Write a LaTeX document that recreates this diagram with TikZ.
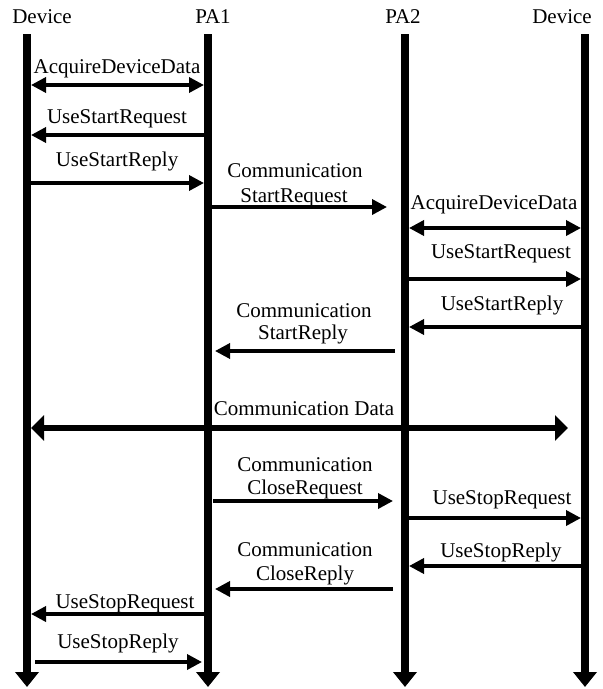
\documentclass[tikz,border=0pt]{standalone}
\usepackage{fontspec}
\setmainfont{Liberation Serif}
\usetikzlibrary{arrows.meta}
\begin{document}
\begin{tikzpicture}[x=1pt,y=-1pt,
  lbl/.style={font=\fontsize{21}{25}\selectfont, anchor=base, inner sep=0pt},
  life/.style={line width=8pt, -{Triangle[length=15pt,width=23pt]}},
  msg/.style={line width=3.5pt, -{Triangle[length=15pt,width=15pt]}},
  dmsg/.style={line width=3.5pt, {Triangle[length=15pt,width=15pt]}-{Triangle[length=15pt,width=15pt]}},
  bigmsg/.style={line width=6pt, {Triangle[length=13pt,width=25pt]}-{Triangle[length=13pt,width=25pt]}}]
\useasboundingbox (0,0) rectangle (603,689);
% headers
\node[lbl] (h1) at (42,23) {Device};
\node[lbl] (h2) at (213,23) {PA1};
\node[lbl] (h3) at (403,23) {PA2};
\node[lbl] (h4) at (562,23) {Device};
% lifelines
\coordinate (L1t) at (27,34);  \coordinate (L1b) at (27,687);
\coordinate (L2t) at (208,34); \coordinate (L2b) at (208,687);
\coordinate (L3t) at (405,34); \coordinate (L3b) at (405,687);
\coordinate (L4t) at (585,34); \coordinate (L4b) at (585,687);
\draw[life] (L1t) -- (L1b);
\draw[life] (L2t) -- (L2b);
\draw[life] (L3t) -- (L3b);
\draw[life] (L4t) -- (L4b);
% messages
\draw[dmsg] ([xshift=4pt]L1t |- 0,85) -- ([xshift=-4pt]L2t |- 0,85);
\node[lbl] (m1) at (117,73) {AcquireDeviceData};
\draw[msg] ([xshift=-4pt]L2t |- 0,135) -- ([xshift=4pt]L1t |- 0,135);
\node[lbl] (m2) at (117,123) {UseStartRequest};
\draw[msg] ([xshift=4pt]L1t |- 0,183) -- ([xshift=-4pt]L2t |- 0,183);
\node[lbl] (m3) at (117,166) {UseStartReply};
\draw[msg] ([xshift=4pt]L2t |- 0,207) -- ([xshift=-18pt]L3t |- 0,207);
\node[lbl] (m4a) at (295,177) {Communication};
\node[lbl] (m4b) at (294,202) {StartRequest};
\draw[dmsg] ([xshift=4pt]L3t |- 0,228) -- ([xshift=-4pt]L4t |- 0,228);
\node[lbl] (m5) at (494,209) {AcquireDeviceData};
\draw[msg] ([xshift=4pt]L3t |- 0,279) -- ([xshift=-4pt]L4t |- 0,279);
\node[lbl] (m6) at (501,258) {UseStartRequest};
\draw[msg] ([xshift=-4pt]L4t |- 0,327) -- ([xshift=4pt]L3t |- 0,327);
\node[lbl] (m7) at (502,310) {UseStartReply};
\draw[msg] ([xshift=-10pt]L3t |- 0,351) -- ([xshift=7pt]L2t |- 0,351);
\node[lbl] (m8a) at (304,317) {Communication};
\node[lbl] (m8b) at (303,339) {StartReply};
\draw[bigmsg] ([xshift=4pt]L1t |- 0,428) -- ([xshift=-17pt]L4t |- 0,428);
\node[lbl] (m9) at (304,415) {Communication Data};
\draw[msg] ([xshift=5pt]L2t |- 0,501) -- ([xshift=-12pt]L3t |- 0,501);
\node[lbl] (m10a) at (305,471) {Communication};
\node[lbl] (m10b) at (305,494) {CloseRequest};
\draw[msg] ([xshift=4pt]L3t |- 0,518) -- ([xshift=-4pt]L4t |- 0,518);
\node[lbl] (m11) at (502,504) {UseStopRequest};
\draw[msg] ([xshift=-4pt]L4t |- 0,566) -- ([xshift=4pt]L3t |- 0,566);
\node[lbl] (m12) at (501,557) {UseStopReply};
\draw[msg] ([xshift=-12pt]L3t |- 0,589) -- ([xshift=7pt]L2t |- 0,589);
\node[lbl] (m13a) at (305,556) {Communication};
\node[lbl] (m13b) at (305,580) {CloseReply};
\draw[msg] ([xshift=-4pt]L2t |- 0,614) -- ([xshift=4pt]L1t |- 0,614);
\node[lbl] (m14) at (125,608) {UseStopRequest};
\draw[msg] ([xshift=8pt]L1t |- 0,662) -- ([xshift=-6pt]L2t |- 0,662);
\node[lbl] (m15) at (118,648) {UseStopReply};
\end{tikzpicture}
\end{document}
